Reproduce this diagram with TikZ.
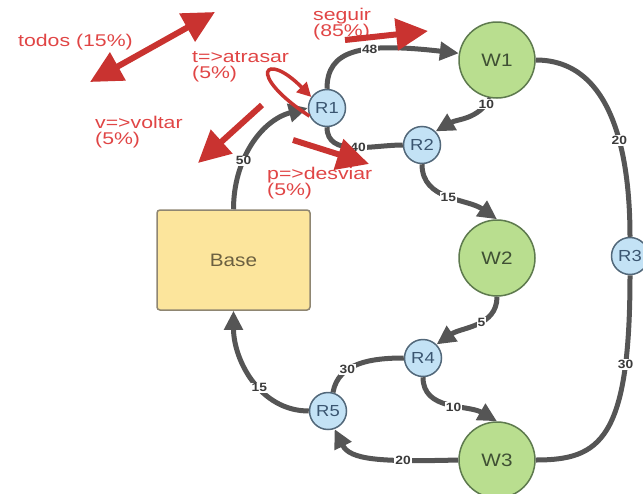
\documentclass[tikz,border=0pt]{standalone}
\usepackage{fontspec}
\setmainfont{Liberation Sans}[FakeStretch=1.15]
\newfontfamily\notefont{Liberation Sans}[FakeStretch=1.25]
\usepackage{tikz}
\usetikzlibrary{arrows.meta,calc}
\definecolor{wfill}{HTML}{B9DE8F}
\definecolor{wborder}{HTML}{5E7A4E}
\definecolor{wtext}{HTML}{3F5034}
\definecolor{rfill}{HTML}{C3E2F5}
\definecolor{rborder}{HTML}{52687A}
\definecolor{rtext}{HTML}{3A5570}
\definecolor{basefill}{HTML}{FCE59C}
\definecolor{baseborder}{HTML}{8F8672}
\definecolor{basetext}{HTML}{6B6040}
\definecolor{edgegray}{HTML}{555555}
\definecolor{cuered}{HTML}{C93330}
\definecolor{notered}{HTML}{E04545}

\begin{document}
\begin{tikzpicture}[x=1pt,y=1pt,
  wnode/.style={circle,draw=wborder,fill=wfill,line width=1.5pt,minimum size=76pt,inner sep=0pt,text=wtext,font=\fontsize{18}{18}\selectfont},
  rnode/.style={circle,draw=rborder,fill=rfill,line width=1.5pt,minimum size=37pt,inner sep=0pt,text=rtext,font=\fontsize{16}{16}\selectfont},
  basebox/.style={rectangle,rounded corners=3pt,draw=baseborder,fill=basefill,line width=1.5pt,minimum width=153pt,minimum height=100pt,text=basetext,font=\fontsize{18}{18}\selectfont},
  route/.style={draw=edgegray,line width=5pt},
  routearrow/.style={route,-{Triangle[length=19pt,width=18pt]}},
  weight/.style={fill=white,inner sep=1pt,text=edgegray!70!black,font=\bfseries\fontsize{12}{12}\selectfont},
  note/.style={text=notered,align=left,anchor=base west,inner sep=0pt,font=\notefont\fontsize{17}{16}\selectfont},
  cue/.style={draw=cuered,line width=6pt,-{Triangle[length=32pt,width=31pt]}},
  cuetwo/.style={cue,{Triangle[length=32pt,width=31pt]}-{Triangle[length=32pt,width=31pt]}},
  loopcue/.style={draw=cuered,line width=3.5pt,-{Triangle[length=14pt,width=14pt]}}]
\useasboundingbox (0,0) rectangle (643,-493);

% places
\node[basebox] (base) at (233.5,-260) {Base};
\node[wnode] (w1) at (497,-60) {W1};
\node[wnode] (w2) at (497,-258) {W2};
\node[wnode] (w3) at (497,-460) {W3};
\node[rnode] (r1) at (327,-108) {R1};
\node[rnode] (r2) at (422,-145) {R2};
\node[rnode] (r3) at (630,-256) {R3};
\node[rnode] (r4) at (423,-358) {R4};
\node[rnode] (r5) at (328,-411) {R5};

% routes
\draw[routearrow] (base.north) to[out=90,in=195] node[weight,pos=0.36]{50} (r1.west);
\draw[routearrow] (r1.north) .. controls (327,-50) and (360,-42) .. node[weight,pos=0.6]{48} (w1.170);
\draw[route] (r1.south) to[out=-90,in=180] node[weight,pos=0.55]{40} (r2.west);
\draw[routearrow] (w1.260) to[out=-120,in=30] node[weight,pos=0.1]{10} (r2.45);
\draw[routearrow] (r2.south) to[out=-90,in=145] node[weight,pos=0.5]{15} (w2.north);
\draw[route] (w1.east) to[out=0,in=90] node[weight,pos=0.6]{20} (r3.north);
\draw[route] (r3.south) .. controls (630,-440) and (600,-460) .. node[weight,pos=0.22]{30} (w3.east);
\draw[routearrow] (w2.south) to[out=-90,in=35] node[weight,pos=0.42]{5} (r4.north east);
\draw[routearrow] (r4.south) to[out=-90,in=150] node[weight,pos=0.55]{10} (w3.north);
\draw[route] (r4.west) to[out=180,in=80] node[weight,pos=0.66]{30} (r5.75);
\draw[routearrow] (w3.west) .. controls (380,-462) and (350,-460) .. node[weight,pos=0.28]{20} (r5.-70);
\draw[routearrow] (r5.west) to[out=180,in=-90] node[weight,pos=0.42]{15} (base.south);

% choices
\node[note] (todos) at (18,-46) {todos (15\%)};
\node[note] (seguir) at (313,-36) {seguir\\(85\%)};
\node[note] (atrasar) at (192,-78) {t=>atrasar\\(5\%)};
\node[note] (voltar) at (95,-144) {v=>voltar\\(5\%)};
\node[note] (desviar) at (267,-195) {p=>desviar\\(5\%)};
\coordinate (todosA) at (90,-82);
\coordinate (todosB) at (215,-12);
\coordinate (seguirA) at (345,-40);
\coordinate (seguirB) at (428,-31);
\coordinate (voltarA) at (262,-105);
\coordinate (voltarB) at (198,-163);
\coordinate (desviarA) at (293,-140);
\coordinate (desviarB) at (369,-164);
\draw[cuetwo] (todosA) -- (todosB);
\draw[cue] (seguirA) -- (seguirB);
\draw[cue] (voltarA) -- (voltarB);
\draw[cue] (desviarA) -- (desviarB);
\draw[loopcue] (r1.205) .. controls (245,-74) and (265,-50) .. (r1.145);
\end{tikzpicture}
\end{document}
